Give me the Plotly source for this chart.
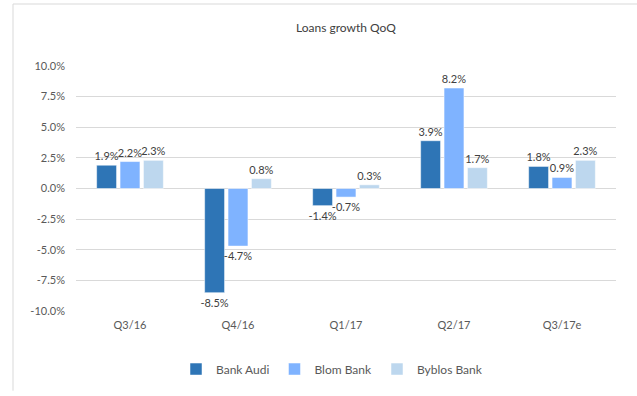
import plotly.graph_objects as go

categories = ["Q3/16", "Q4/16", "Q1/17", "Q2/17", "Q3/17e"]
bank_audi = [1.9, -8.5, -1.4, 3.9, 1.8]
blom_bank = [2.2, -4.7, -0.7, 8.2, 0.9]
byblos_bank = [2.3, 0.8, 0.3, 1.7, 2.3]
series_names = ["Bank Audi", "Blom Bank", "Byblos Bank"]
tick_vals = [-10, -7.5, -5, -2.5, 0, 2.5, 5, 7.5, 10]
tick_text = ["-10.0%", "-7.5%", "-5.0%", "-2.5%", "0.0%", "2.5%", "5.0%", "7.5%", "10.0%"]

colors = ["#2E75B6", "#7FB3FF", "#BDD7EE"]
FONT = "Lato, 'Open Sans', sans-serif"

W, H = 637, 396
L, R, T, B = 76, 21, 66, 81
pw, ph = W - L - R, H - T - B

fig = go.Figure()
for name, vals, col in zip(series_names, [bank_audi, blom_bank, byblos_bank], colors):
    fig.add_trace(go.Bar(
        x=categories, y=vals, name=name,
        marker=dict(color=col, line=dict(color="white", width=0.5)),
        text=[f"{v:.1f}%" for v in vals],
        textposition="outside",
        constraintext="none",
        cliponaxis=False,
        textfont=dict(family=FONT, size=11, color="#404040"),
        hoverinfo="skip",
    ))

fig.update_layout(
    width=W, height=H,
    margin=dict(l=L, r=R, t=T, b=B),
    paper_bgcolor="white", plot_bgcolor="white",
    barmode="group", bargap=0.35, bargroupgap=0.15,
    title=dict(text="Loans growth QoQ", x=346 / W, xanchor="center",
               y=1 - 28 / H, yanchor="middle",
               font=dict(family=FONT, size=12, color="#404040")),
    font=dict(family=FONT, size=11, color="#595959"),
    showlegend=True,
    legend=dict(orientation="h", x=(176 - L) / pw, xanchor="left", y=-(374 - T - ph) / ph, yanchor="middle",
                font=dict(family=FONT, size=12, color="#595959"),
                itemwidth=30, tracegroupgap=0, traceorder="normal"),
    xaxis=dict(showgrid=False, showline=False, ticks="", ticklabelstandoff=6,
               tickfont=dict(size=11, color="#595959")),
    yaxis=dict(range=[-10, 10], tickvals=tick_vals, ticktext=tick_text,
               showgrid=True, gridcolor="#D9D9D9", gridwidth=1,
               zeroline=True, zerolinecolor="#D9D9D9", zerolinewidth=1,
               showline=False, ticks="", ticklen=0, ticklabelstandoff=10,
               tickfont=dict(size=11, color="#595959")),
)

# chart-area border (top and left edges visible in the reference)
x_left = (13 - L) / pw
y_top = 1 + (T - 3) / ph
fig.add_shape(type="line", xref="paper", yref="paper", x0=x_left, x1=(W - L) / pw, y0=y_top, y1=y_top,
              line=dict(color="#D9D9D9", width=1))
fig.add_shape(type="line", xref="paper", yref="paper", x0=x_left, x1=x_left, y0=y_top, y1=-(B) / ph,
              line=dict(color="#D9D9D9", width=1))

fig.write_html("out.html")
